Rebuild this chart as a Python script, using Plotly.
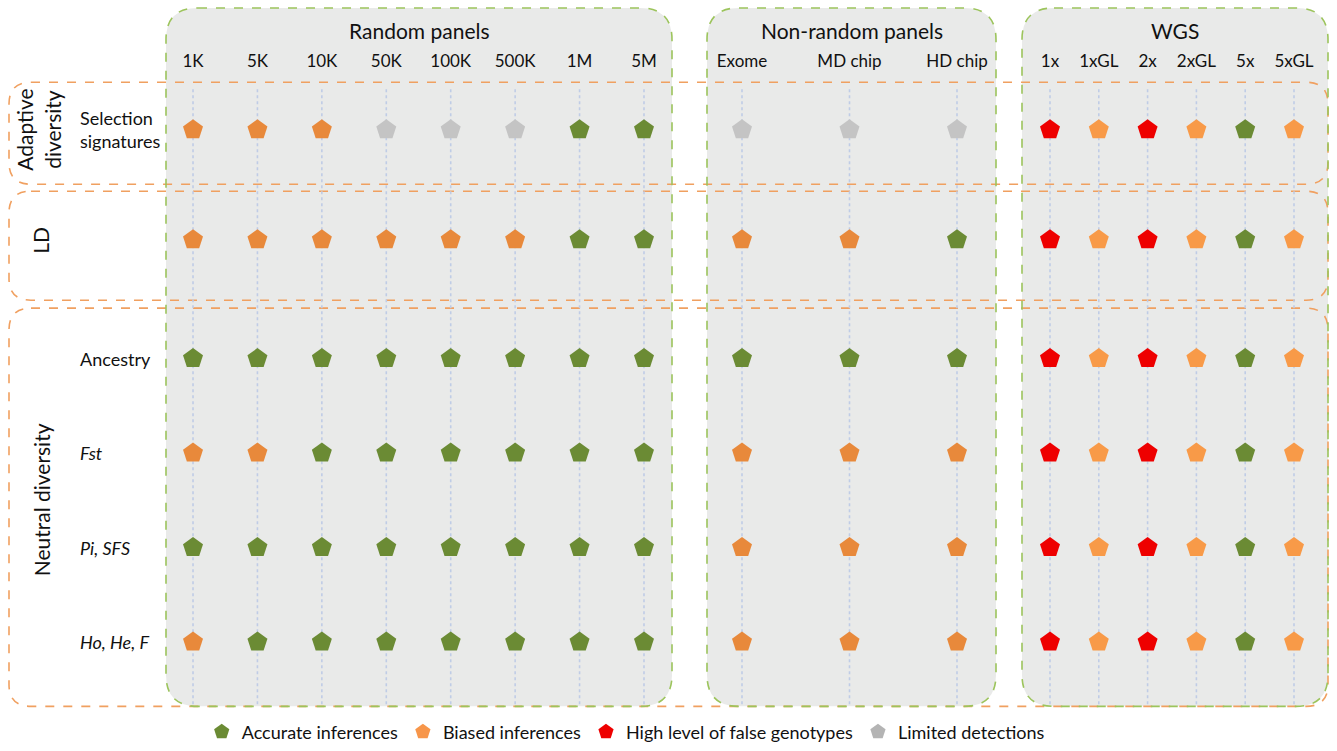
import plotly.graph_objects as go

# ---------------- data ----------------
random_cols = ["1K", "5K", "10K", "50K", "100K", "500K", "1M", "5M"]
nonrandom_cols = ["Exome", "MD chip", "HD chip"]
wgs_cols = ["1x", "1xGL", "2x", "2xGL", "5x", "5xGL"]

adaptive_rows = ["Selection signatures"]
ld_rows = ["LD"]
neutral_rows = ["Ancestry", "Fst", "Pi, SFS", "Ho, He, F"]

# status codes: A accurate, B biased, H high false genotypes, L limited detection
status_random = {
    "Selection signatures": ["B", "B", "B", "L", "L", "L", "A", "A"],
    "LD":                   ["B", "B", "B", "B", "B", "B", "A", "A"],
    "Ancestry":             ["A", "A", "A", "A", "A", "A", "A", "A"],
    "Fst":                  ["B", "B", "A", "A", "A", "A", "A", "A"],
    "Pi, SFS":              ["A", "A", "A", "A", "A", "A", "A", "A"],
    "Ho, He, F":            ["B", "A", "A", "A", "A", "A", "A", "A"],
}
status_nonrandom = {
    "Selection signatures": ["L", "L", "L"],
    "LD":                   ["B", "B", "A"],
    "Ancestry":             ["A", "A", "A"],
    "Fst":                  ["B", "B", "B"],
    "Pi, SFS":              ["B", "B", "B"],
    "Ho, He, F":            ["B", "B", "B"],
}
status_wgs = {
    "Selection signatures": ["H", "B", "H", "B", "A", "B"],
    "LD":                   ["H", "B", "H", "B", "A", "B"],
    "Ancestry":             ["H", "B", "H", "B", "A", "B"],
    "Fst":                  ["H", "B", "H", "B", "A", "B"],
    "Pi, SFS":              ["H", "B", "H", "B", "A", "B"],
    "Ho, He, F":            ["H", "B", "H", "B", "A", "B"],
}
status_names = {
    "A": "Accurate inferences",
    "B": "Biased inferences",
    "H": "High level of false genotypes",
    "L": "Limited detections",
}
group_titles = ["Random panels", "Non-random panels", "WGS"]
row_group_titles = ["Adaptive<br>diversity", "LD", "Neutral diversity"]
row_display = {
    "Selection signatures": "Selection<br>signatures",
    "LD": "",
    "Ancestry": "Ancestry",
    "Fst": "<i>Fst</i>",
    "Pi, SFS": "<i>Pi, SFS</i>",
    "Ho, He, F": "<i>Ho, He, F</i>",
}

# ---------------- styling / layout ----------------
W, H = 1337, 751
FONT = "Lato"


def px(x):
    return x / W


def py(y):
    return 1 - y / H


colors = {
    "A": {0: "#6b8b34", 1: "#6b8b34", 2: "#6b8b34"},
    "B": {0: "#e8893b", 1: "#e8893b", 2: "#f89a48"},
    "H": {0: "#ee0000", 1: "#ee0000", 2: "#ee0000"},
    "L": {0: "#c4c4c4", 1: "#c4c4c4", 2: "#c4c4c4"},
}
legend_colors = {"A": "#6b8b34", "B": "#f7964a", "H": "#ee0000", "L": "#b4b4b4"}

col_groups = [random_cols, nonrandom_cols, wgs_cols]
col_status = [status_random, status_nonrandom, status_wgs]
row_groups = [adaptive_rows, ld_rows, neutral_rows]

# pixel extents of axis domains
x_dom_px = [(160.8, 676.2), (688.25, 1010.75), (1025.6, 1318.4)]
y_dom_px = [(72, 190), (190, 294), (314.3, 695.7)]

fig = go.Figure()

xnames = ["x", "x2", "x3"]
ynames = ["y", "y2", "y3"]

for gi, cols in enumerate(col_groups):
    for ri, rows in enumerate(row_groups):
        for s in ["A", "B", "H", "L"]:
            xs, ys = [], []
            for r in rows:
                for c, st in zip(cols, col_status[gi][r]):
                    if st == s:
                        xs.append(c)
                        ys.append(r)
            if not xs:
                continue
            fig.add_trace(go.Scatter(
                x=xs, y=ys, mode="markers",
                xaxis=xnames[gi], yaxis=ynames[ri],
                marker=dict(symbol="pentagon", size=21, color=colors[s][gi],
                            line=dict(width=0)),
                name=status_names[s], showlegend=False,
                hovertemplate="%{x} / %{y}<extra>" + status_names[s] + "</extra>",
            ))

# legend entries
for rank, s in enumerate(["A", "B", "H", "L"]):
    fig.add_trace(go.Scatter(
        x=[None], y=[None], mode="markers", xaxis="x", yaxis="y",
        marker=dict(symbol="pentagon", size=22, color=legend_colors[s]),
        name=status_names[s], showlegend=True, legendrank=rank + 1,
    ))

layout = dict(
    width=W, height=H,
    margin=dict(l=0, r=0, t=0, b=0),
    paper_bgcolor="white",
    plot_bgcolor="rgba(0,0,0,0)",
    font=dict(family=FONT, color="#111111", size=17),
    showlegend=True,
    legend=dict(orientation="h", x=0.468, xanchor="center", y=py(739),
                yanchor="middle", font=dict(size=18, family=FONT),
                bgcolor="rgba(0,0,0,0)", itemclick=False, itemdoubleclick=False),
)
for gi, cols in enumerate(col_groups):
    key = "xaxis" if gi == 0 else f"xaxis{gi + 1}"
    layout[key] = dict(
        type="category", categoryorder="array", categoryarray=cols,
        range=[-0.5, len(cols) - 0.5],
        domain=[px(x_dom_px[gi][0]), px(x_dom_px[gi][1])],
        anchor="y", side="top", showgrid=False, zeroline=False,
        showline=False, ticks="", tickfont=dict(size=17, family=FONT, color="#111111"),
        fixedrange=True,
    )
for ri, rows in enumerate(row_groups):
    key = "yaxis" if ri == 0 else f"yaxis{ri + 1}"
    layout[key] = dict(
        type="category", categoryorder="array", categoryarray=rows,
        range=[len(rows) - 0.5, -0.5],
        domain=[py(y_dom_px[ri][1]), py(y_dom_px[ri][0])],
        anchor="x", visible=False, showgrid=False, fixedrange=True,
    )
fig.update_layout(**layout)


def rounded_rect(x0, y0, x1, y1, r):
    rx, ry = r / W, r / H
    X0, X1 = px(x0), px(x1)
    Y0, Y1 = py(y0), py(y1)  # Y0 top, Y1 bottom
    return (f"M {X0 + rx},{Y0} L {X1 - rx},{Y0} Q {X1},{Y0} {X1},{Y0 - ry} "
            f"L {X1},{Y1 + ry} Q {X1},{Y1} {X1 - rx},{Y1} "
            f"L {X0 + rx},{Y1} Q {X0},{Y1} {X0},{Y1 + ry} "
            f"L {X0},{Y0 - ry} Q {X0},{Y0} {X0 + rx},{Y0} Z")


green_boxes = [(166, 8, 672, 713), (707, 8, 996, 713), (1022, 8, 1328, 713)]
orange_boxes = [(9, 83, 1328, 186), (9, 193, 1328, 303), (9, 311, 1328, 713)]

shapes = []
for b in green_boxes:
    shapes.append(dict(type="path", path=rounded_rect(*b, 32), xref="paper", yref="paper",
                       fillcolor="#e9eae9", line=dict(width=0), layer="below"))
for b in orange_boxes:
    shapes.append(dict(type="path", path=rounded_rect(*b, 22), xref="paper", yref="paper",
                       fillcolor="rgba(0,0,0,0)",
                       line=dict(color="#f0a060", width=1.6, dash="dash"), layer="below"))
for b in green_boxes:
    shapes.append(dict(type="path", path=rounded_rect(*b, 32), xref="paper", yref="paper",
                       fillcolor="rgba(0,0,0,0)",
                       line=dict(color="#9cc45c", width=1.6, dash="dash"), layer="below"))
# dotted column guides
for gi, cols in enumerate(col_groups):
    for c in cols:
        shapes.append(dict(type="line", xref=xnames[gi], yref="paper", x0=c, x1=c,
                           y0=py(90), y1=py(712),
                           line=dict(color="#bfcce6", width=1.6, dash="dot"), layer="below"))
fig.update_layout(shapes=shapes)

annotations = []
for gi, t in enumerate(group_titles):
    b = green_boxes[gi]
    annotations.append(dict(text=t, x=px((b[0] + b[2]) / 2), y=py(31), xref="paper", yref="paper",
                            showarrow=False, font=dict(size=21, family=FONT), xanchor="center",
                            yanchor="middle"))
group_label_pos = [(38, 131), (41, 243), (41, 505)]
for ri, t in enumerate(row_group_titles):
    gx, gy = group_label_pos[ri]
    annotations.append(dict(text=t, x=px(gx), y=py(gy), xref="paper", yref="paper",
                            showarrow=False, textangle=-90, font=dict(size=21, family=FONT),
                            xanchor="center", yanchor="middle"))
for ri, rows in enumerate(row_groups):
    for r in rows:
        if not row_display[r]:
            continue
        annotations.append(dict(text=row_display[r], x=px(78), y=r, xref="paper",
                                yref=ynames[ri], showarrow=False, align="left",
                                font=dict(size=18, family=FONT), xanchor="left",
                                yanchor="middle"))
fig.update_layout(annotations=annotations)

page_js = (
    "document.body.style.margin='0px';"
    "document.documentElement.style.overflow='hidden';"
    "document.body.style.overflow='hidden';"
)
fig.write_html("out.html", config={"displayModeBar": False}, post_script=page_js)
